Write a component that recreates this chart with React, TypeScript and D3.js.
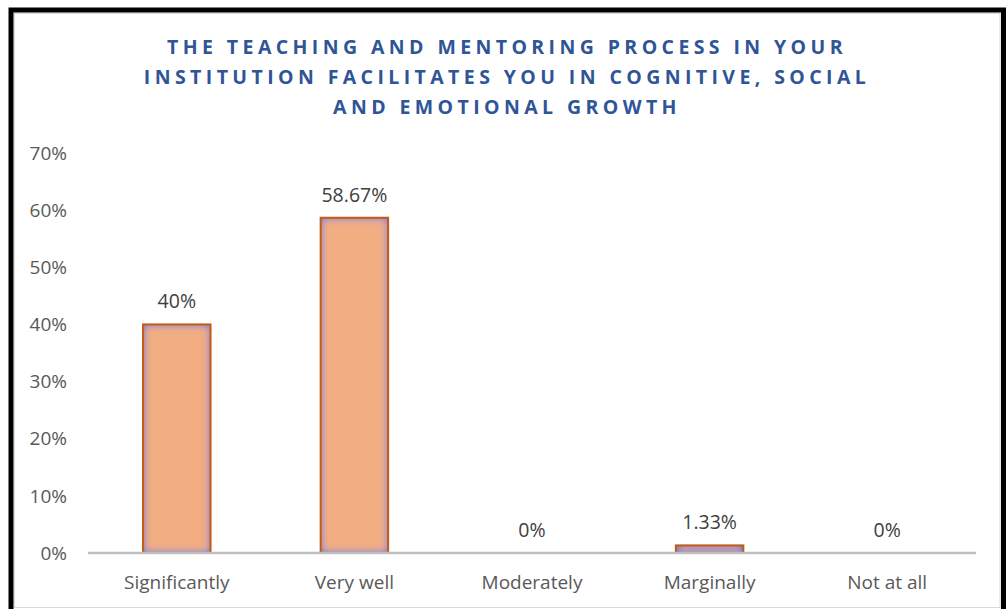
import React from "react";
import * as d3 from "d3";

const categories = ["Significantly", "Very well", "Moderately", "Marginally", "Not at all"];
const values = [40, 58.67, 0, 1.33, 0];
const valueLabels = ["40%", "58.67%", "0%", "1.33%", "0%"];
const yTicks = [0, 10, 20, 30, 40, 50, 60, 70];
const titleLines = [
  "THE TEACHING AND MENTORING PROCESS IN YOUR",
  "INSTITUTION FACILITATES YOU IN COGNITIVE, SOCIAL",
  "AND EMOTIONAL GROWTH",
];

const W = 1007;
const H = 609;
const font = "'Open Sans', Lato, sans-serif";

const App = () => {
  const x = d3.scaleBand().domain(categories).range([88, 976]).paddingInner(0.62).paddingOuter(0.31);
  const y = d3.scaleLinear().domain([0, 70]).range([553, 153]);

  return (
    <svg width={W} height={H} style={{ position: "absolute", left: 0, top: 0, background: "#fff" }}>
      <defs>
        <filter id="innerGlow" x="-10%" y="-10%" width="120%" height="120%">
          <feGaussianBlur in="SourceAlpha" stdDeviation="4" result="blur" />
          <feComposite in="SourceAlpha" in2="blur" operator="arithmetic" k2="1.6" k3="-1.6" result="edge" />
          <feFlood floodColor="#8088c8" floodOpacity="1" />
          <feComposite in2="edge" operator="in" result="glow" />
          <feMerge>
            <feMergeNode in="SourceGraphic" />
            <feMergeNode in="glow" />
          </feMerge>
        </filter>
      </defs>
      <rect x={11} y={10} width={992.5} height={620} fill="#fff" stroke="#000" strokeWidth={5} />
      <rect x={14.5} y={13.5} width={985.5} height={594} fill="none" stroke="#d9d9d9" strokeWidth={1} />

      {titleLines.map((t, i) => (
        <text
          key={i}
          x={507}
          y={54 + i * 30}
          textAnchor="middle"
          fontFamily={font}
          fontWeight={700}
          fontSize={19.5}
          letterSpacing={4.4}
          fill="#2f5597"
        >
          {t}
        </text>
      ))}

      {yTicks.map((t) => (
        <text key={t} x={67} y={y(t)} dy="0.35em" textAnchor="end" fontFamily={font} fontSize={19} fill="#595959">
          {t}%
        </text>
      ))}

      {categories.map((c, i) => {
        const bx = x(c)!;
        const by = y(values[i]);
        const bh = y(0) - by;
        return (
          <g key={c}>
            {values[i] > 0 && (
              <>
                <rect x={bx} y={by} width={x.bandwidth()} height={bh} fill="#f2ae82" filter="url(#innerGlow)" />
                <rect x={bx} y={by} width={x.bandwidth()} height={bh} fill="none" stroke="#c55a11" strokeWidth={2} />
              </>
            )}
            <text
              x={bx + x.bandwidth() / 2}
              y={by - 16}
              textAnchor="middle"
              fontFamily={font}
              fontSize={19.5}
              fill="#404040"
            >
              {valueLabels[i]}
            </text>
            <text
              x={bx + x.bandwidth() / 2}
              y={582}
              dy="0.35em"
              textAnchor="middle"
              fontFamily={font}
              fontSize={19}
              fill="#595959"
            >
              {c}
            </text>
          </g>
        );
      })}

      <line x1={88} x2={976} y1={y(0)} y2={y(0)} stroke="#bfbfbf" strokeWidth={2.5} />
    </svg>
  );
};

export default App;
